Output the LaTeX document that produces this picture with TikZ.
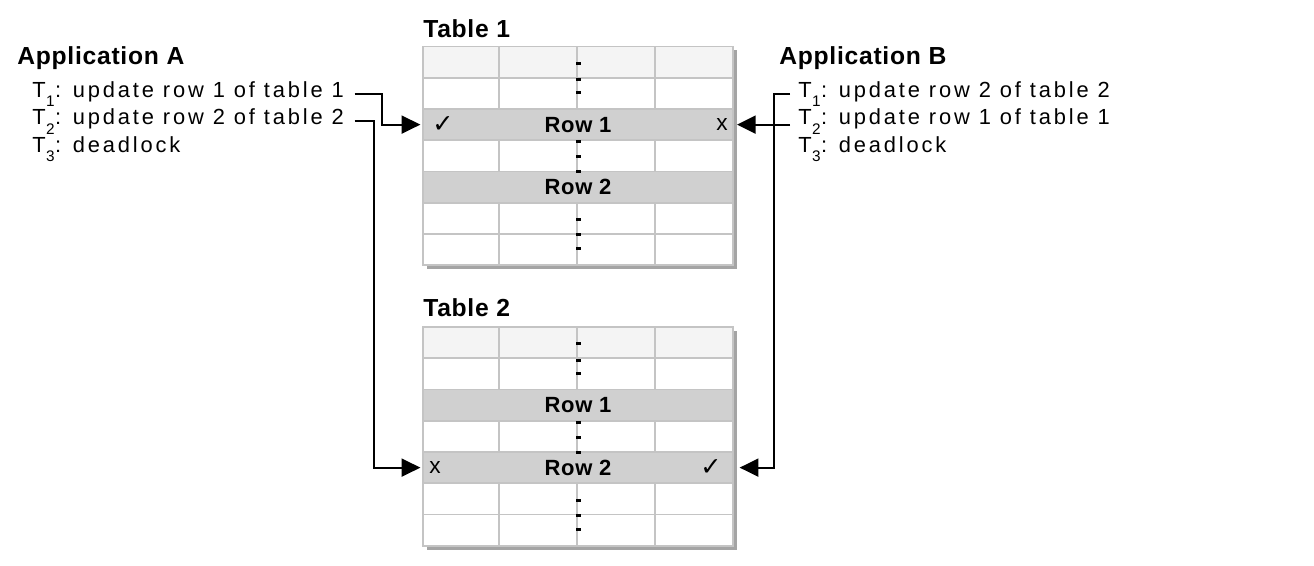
\documentclass[tikz,border=0pt]{standalone}
\usepackage{fontspec}
\usetikzlibrary{arrows.meta}
\setmainfont{Liberation Sans}
\newfontfamily\txtfont{Liberation Sans}[LetterSpace=13]
\newfontfamily\headfont{Liberation Sans}[LetterSpace=3]
\newfontfamily\symfont{DejaVu Sans}
\newcommand\tsub[1]{\kern0.02em\smash{\raisebox{-0.42em}{\fontsize{11.5}{11.5}\selectfont #1}}\kern0.02em}
\definecolor{gridc}{HTML}{C4C4C4}
\definecolor{row0c}{HTML}{F4F4F4}
\definecolor{bandc}{HTML}{D0D0D0}
\definecolor{shadc}{HTML}{A4A4A4}
\tikzset{
  head/.style={inner sep=0pt, anchor=base west, font=\headfont\bfseries\fontsize{18.5}{22}\selectfont},
  txt/.style={inner sep=0pt, anchor=base west, font=\txtfont\fontsize{16.4}{21}\selectfont},
  band/.style={fill=bandc, draw=none, inner sep=0pt, outer sep=0pt, minimum width=232.5pt, minimum height=23.44pt, font=\headfont\bfseries\fontsize{16.5}{20}\selectfont},
  okmark/.style={inner sep=0pt, font=\symfont\fontsize{19}{19}\selectfont},
  xmark/.style={inner sep=0pt, font=\txtfont\fontsize{17}{18}\selectfont},
  gridl/.style={draw=gridc, line width=1.3pt},
  conn/.style={line width=1.5pt, -{Triangle[length=14pt,width=13.5pt]}},
}
\newcommand\dbtable[2]{%
  \begin{scope}[shift={(0,#2)}]
    \fill[shadc] (427,4) rectangle (737,223);
    \fill[white] (423,0) rectangle (733,218.75);
    \fill[row0c] (423,0) rectangle (733,31.25);
    \node[band] (#1r1) at (578,78.125) {Row 1};
    \node[band] (#1r2) at (578,140.625) {Row 2};
    \foreach \k in {1,...,6} \draw[gridl] (423,{31.25*\k}) -- (733,{31.25*\k});
    \foreach \k in {0,1,3,5,6} \foreach \c in {499,577,655}
      \draw[gridl] (\c,{31.25*\k}) -- (\c,{31.25*(\k+1)});
    \draw[gridl] (423,0) rectangle (733,218.75);
    \foreach \d in {16.6,33.3,46.3,95.3,110.3,125.3,173.3,188.3,202.3}
      \fill[black] (575.5,{\d-1.5}) rectangle (580.5,{\d+1.5});
  \end{scope}}
\begin{document}
\begin{tikzpicture}[x=0.75pt, y=-0.75pt]
\useasboundingbox (0,0) rectangle (1314,566);
% tables
\dbtable{t1}{46.5}
\dbtable{t2}{327}
\node[head] (tab1) at (423,37.3) {Table 1};
\node[head] (tab2) at (423,316.7) {Table 2};
% marks in rows
\node[okmark] (t1ok) at (443,124.6) {✓};
\node[xmark] (t1x) at (722,124.6) {x};
\node[xmark] (t2x) at (435,467.6) {x};
\node[okmark] (t2ok) at (711,467.6) {✓};
% applications
\node[head] (appA) at (17,65) {Application A};
\node[txt] (a1) at (32,97.5) {T\tsub{1}: update row 1 of table 1};
\node[txt] (a2) at (32,125) {T\tsub{2}: update row 2 of table 2};
\node[txt] (a3) at (32,152.5) {T\tsub{3}: deadlock};
\node[head] (appB) at (779,65) {Application B};
\node[txt] (b1) at (798,97.5) {T\tsub{1}: update row 2 of table 2};
\node[txt] (b2) at (798,125) {T\tsub{2}: update row 1 of table 1};
\node[txt] (b3) at (798,152.5) {T\tsub{3}: deadlock};
% connector bends
\coordinate (ja1) at (382,0);
\coordinate (ja2) at (374,0);
\coordinate (jb) at (774,0);
\draw[conn] ([xshift=8pt]a1.mid east) -| (ja1 |- t1r1.west) -- ([xshift=-2pt]t1r1.west);
\draw[conn] ([xshift=8pt]a2.mid east) -| (ja2 |- t2r2.west) -- ([xshift=-2pt]t2r2.west);
\draw[conn] ([xshift=-6pt]b1.mid west) -| (jb |- t2r2.east) -- ([xshift=5pt]t2r2.east);
\draw[conn] ([xshift=-6pt]b2.west |- t1r1.east) -- ([xshift=3pt]t1r1.east);
\end{tikzpicture}
\end{document}
